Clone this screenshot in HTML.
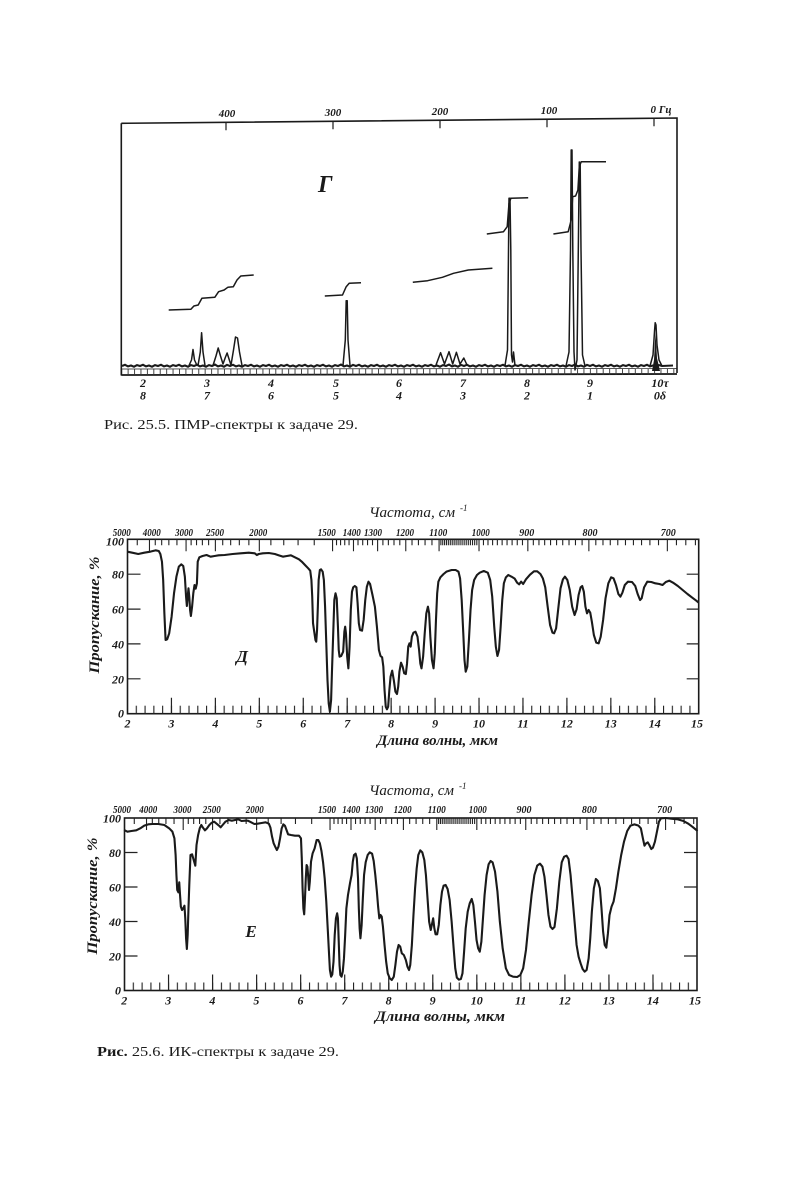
<!DOCTYPE html>
<html><head><meta charset="utf-8"><style>
html,body{margin:0;padding:0;background:#fff;}
svg{display:block;}
text{font-family:"Liberation Serif",serif;fill:#1a1a1a;}
.n{font-weight:bold;font-style:italic;font-size:12px;}
.f{font-weight:bold;font-style:italic;font-size:11px;}
.t{font-style:italic;font-size:15px;}
</style></head><body>
<svg width="796" height="1200" viewBox="0 0 796 1200" xmlns="http://www.w3.org/2000/svg">
<defs>
<pattern id="nmrt" patternUnits="userSpaceOnUse" x="140.5" y="369" width="6.42" height="6"><rect x="0" y="0" width="0.9" height="6" fill="#333"/></pattern>
<pattern id="dt" patternUnits="userSpaceOnUse" x="126.95" y="705.7" width="8.788" height="8"><rect x="0" y="0" width="1.1" height="8" fill="#222"/></pattern>
<pattern id="et" patternUnits="userSpaceOnUse" x="123.95" y="982.5" width="8.81" height="8"><rect x="0" y="0" width="1.1" height="8" fill="#222"/></pattern>
</defs>
<rect width="796" height="1200" fill="#fff"/>

<!-- ===== NMR ===== -->
<g stroke="#1a1a1a" fill="none" stroke-width="1.6">
<path d="M121.3,123.3 L677,118 L677,373"/>
<path d="M121.3,123.3 L121.3,375.5"/>
<path d="M121.3,375 L677,374" stroke-width="1.8"/>
<path d="M121.3,369 L677,368.5" stroke-width="0.7"/>
<path d="M226,122.3v8M333,121.3v8M440,120.3v8M547,119.2v8M654,118.2v8" stroke-width="1.2"/>
</g>
<rect x="122" y="369" width="555" height="6" fill="url(#nmrt)"/>

<text class="f" x="227" y="117" text-anchor="middle">400</text>
<text class="f" x="333" y="116" text-anchor="middle">300</text>
<text class="f" x="440" y="115" text-anchor="middle">200</text>
<text class="f" x="549" y="114" text-anchor="middle">100</text>
<text class="f" x="661" y="113" text-anchor="middle">0 Гц</text>

<text x="318" y="192" style="font-weight:bold;font-style:italic;font-size:24px">Г</text>

<!-- baseline -->
<path fill="none" stroke="#1a1a1a" stroke-width="2.1" d="M122,366 l3,-1.2 3,1.6 3,-0.9 3,1.2 3,-1.6 3,0.9 l3,-1.2 3,1.6 3,-0.9 3,1.2 3,-1.6 3,0.9 l3,-1.2 3,1.6 3,-0.9 3,1.2 3,-1.6 3,0.9 l3,-1.2 3,1.6 3,-0.9 3,1.2 3,-1.6 3,0.9 l3,-1.2 3,1.6 3,-0.9 3,1.2 3,-1.6 3,0.9 l3,-1.4 3,1.8 3,-0.9 3,1.2 3,-1.8 3,1.1 l3,-1.2 3,1.6 3,-0.9 3,1.2 3,-1.6 3,0.9 l3,-1.2 3,1.6 3,-0.9 3,1.2 3,-1.6 3,0.9 l3,-1.2 3,1.6 3,-0.9 3,1.2 3,-1.6 3,0.9 l3,-1.2 3,1.6 3,-0.9 3,1.2 3,-1.6 3,0.9 l3,-1.2 3,1.6 3,-0.9 3,1.2 3,-1.6 3,0.9 l3,-1.2 3,1.6 3,-0.9 3,1.2 3,-1.6 3,0.9 l3,-1.4 3,1.8 3,-0.9 3,1.2 3,-1.8 3,1.1 l3,-1.2 3,1.6 3,-0.9 3,1.2 3,-1.6 3,0.9 l3,-1.2 3,1.6 3,-0.9 3,1.2 3,-1.6 3,0.9 l3,-1.2 3,1.6 3,-0.9 3,1.2 3,-1.6 3,0.9 l3,-1.2 3,1.6 3,-0.9 3,1.2 3,-1.6 3,0.9 l3,-1.2 3,1.6 3,-0.9 3,1.2 3,-1.6 3,0.9 l3,-1.4 3,1.8 3,-0.9 3,1.2 3,-1.8 3,1.1 l3,-1.2 3,1.6 3,-0.9 3,1.2 3,-1.6 3,0.9 l3,-1.2 3,1.6 3,-0.9 3,1.2 3,-1.6 3,0.9 l3,-1.2 3,1.6 3,-0.9 3,1.2 3,-1.6 3,0.9 l3,-1.2 3,1.6 3,-0.9 3,1.2 3,-1.6 3,0.9 l3,-1.2 3,1.6 3,-0.9 3,1.2 3,-1.6 3,0.9 l3,-1.2 3,1.6 3,-0.9 3,1.2 3,-1.6 3,0.9 l3,-1.4 3,1.8 3,-0.9 3,1.2 3,-1.8 3,1.1 l3,-1.2 3,1.6 3,-0.9 3,1.2 3,-1.6 3,0.9 l3,-1.2 3,1.6 3,-0.9 3,1.2 3,-1.6 3,0.9 l3,-1.2 3,1.6 3,-0.9 3,1.2 3,-1.6 3,0.9 l3,-1.2 3,1.6 3,-0.9 3,1.2 3,-1.6 3,0.9 L673,365.5"/>

<g fill="none" stroke="#1a1a1a" stroke-width="1.5" stroke-linejoin="round">
<path d="M189,365.5 L191.5,360 L193,349.5 L194.5,360 L197,365.5"/>
<path d="M198,365.5 L200.3,352 L201.6,332.7 L203,352 L205,365.5"/>
<path d="M213,365.5 L216,356 L218.2,348 L220.5,356 L223,364 L225.5,357 L227.1,353 L228.7,358 L231,365 L233.5,350 L235.5,337 L237.5,338 L239.5,352 L242,365.5"/>
<path d="M343,365.5 L345.3,340 L346.2,300.7 L347.2,300.7 L348,340 L350,365.5"/>
<path d="M436,365 L440.6,352.7 L444.5,364 L449,351.7 L452.7,364 L456.4,352.3 L460,364 L463.8,358 L467,365"/>
<path d="M505,365.5 L507.5,350 L508.5,250 L509,198.3 L510,198.3 L510.8,250 L511.5,355 L512.5,362 L513.5,352 L515,365.5"/>
<path d="M566,366 L569,352 L570.5,250 L571.2,150 L572,150 L572.8,250 L574,352 L575,370 L577,360 L578.3,250 L579.3,162 L580.2,165 L581,250 L582.5,355 L585,366"/>
<path d="M650,366 L653,355 L654.6,330 L655.2,322.7 L656,325 L657,345 L659,360 L662,366"/>
<path d="M168.7,310 L190.9,309.3 L193.9,306 L198.2,305 L201.9,298.3 L214.8,297.3 L218.6,291.7 L224.1,290 L227.8,287.3 L233.3,286.7 L237,280 L240.8,276 L253.7,275"/>
<path d="M324.8,296 L342.5,295 L346.2,286.7 L349.2,283.3 L361,282.7"/>
<path d="M412.8,282.3 L427.6,280.7 L442.4,277.3 L453.5,273.3 L468.3,270 L492.4,268.3"/>
<path d="M486.8,234 L503.5,231.7 L507.2,226.7 L509,203.3 L510.9,198.3 L528.2,197.7"/>
<path d="M553.4,234 L568.2,231.7 L571.2,220 L572.7,196.7 L575.6,196 L577.9,190 L579.3,166.7 L581.2,161.7 L606,161.7"/>
</g>
<polygon points="652,371 654,360 655.5,332 657,358 660,371" fill="#1a1a1a"/>

<g class="n" text-anchor="middle">
<text class="n" x="143" y="387" text-anchor="middle">2</text>
<text class="n" x="207" y="387" text-anchor="middle">3</text>
<text class="n" x="271" y="387" text-anchor="middle">4</text>
<text class="n" x="336" y="387" text-anchor="middle">5</text>
<text class="n" x="399" y="387" text-anchor="middle">6</text>
<text class="n" x="463" y="387" text-anchor="middle">7</text>
<text class="n" x="527" y="387" text-anchor="middle">8</text>
<text class="n" x="590" y="387" text-anchor="middle">9</text>
<text class="n" x="660" y="387" text-anchor="middle">10τ</text>
<text class="n" x="143" y="399.5" text-anchor="middle">8</text>
<text class="n" x="207" y="399.5" text-anchor="middle">7</text>
<text class="n" x="271" y="399.5" text-anchor="middle">6</text>
<text class="n" x="336" y="399.5" text-anchor="middle">5</text>
<text class="n" x="399" y="399.5" text-anchor="middle">4</text>
<text class="n" x="463" y="399.5" text-anchor="middle">3</text>
<text class="n" x="527" y="399.5" text-anchor="middle">2</text>
<text class="n" x="590" y="399.5" text-anchor="middle">1</text>
<text class="n" x="660" y="399.5" text-anchor="middle">0δ</text>
</g>

<text x="104" y="429" font-size="13.5" textLength="254" lengthAdjust="spacingAndGlyphs">Рис. 25.5. ПМР-спектры к задаче 29.</text>

<!-- ===== IR Д ===== -->
<text class="t" x="369" y="517" textLength="86" lengthAdjust="spacingAndGlyphs">Частота, см</text>
<text x="460" y="511" style="font-style:italic;font-size:9px">-1</text>

<text class="f" x="121.7" y="536" text-anchor="middle" textLength="18" lengthAdjust="spacingAndGlyphs">5000</text>
<text class="f" x="151.7" y="536" text-anchor="middle" textLength="18" lengthAdjust="spacingAndGlyphs">4000</text>
<text class="f" x="184" y="536" text-anchor="middle" textLength="18" lengthAdjust="spacingAndGlyphs">3000</text>
<text class="f" x="215" y="536" text-anchor="middle" textLength="18" lengthAdjust="spacingAndGlyphs">2500</text>
<text class="f" x="258.3" y="536" text-anchor="middle" textLength="18" lengthAdjust="spacingAndGlyphs">2000</text>
<text class="f" x="326.7" y="536" text-anchor="middle" textLength="18" lengthAdjust="spacingAndGlyphs">1500</text>
<text class="f" x="351.7" y="536" text-anchor="middle" textLength="18" lengthAdjust="spacingAndGlyphs">1400</text>
<text class="f" x="373" y="536" text-anchor="middle" textLength="18" lengthAdjust="spacingAndGlyphs">1300</text>
<text class="f" x="405" y="536" text-anchor="middle" textLength="18" lengthAdjust="spacingAndGlyphs">1200</text>
<text class="f" x="438.3" y="536" text-anchor="middle" textLength="18" lengthAdjust="spacingAndGlyphs">1100</text>
<text class="f" x="480.7" y="536" text-anchor="middle" textLength="18" lengthAdjust="spacingAndGlyphs">1000</text>
<text class="f" x="526.7" y="536" text-anchor="middle" textLength="15" lengthAdjust="spacingAndGlyphs">900</text>
<text class="f" x="590" y="536" text-anchor="middle" textLength="15" lengthAdjust="spacingAndGlyphs">800</text>
<text class="f" x="668.3" y="536" text-anchor="middle" textLength="15" lengthAdjust="spacingAndGlyphs">700</text>

<rect x="127.5" y="539.3" width="571.2" height="174.4" fill="none" stroke="#1a1a1a" stroke-width="1.6"/>
<g transform="translate(127.5,539.3) scale(43.94,1)" stroke="#222" fill="none" stroke-width="1.1">
<path vector-effect="non-scaling-stroke" d="M0.5,0v12M1.333,0v12M2,0v12M3,0v12M4.667,0v12M5.143,0v12M5.692,0v12M6.333,0v12M7.091,0v12M8,0v12M9.111,0v12M10.5,0v12M12.286,0v12"/>
<path vector-effect="non-scaling-stroke" d="M0.222,0v6M0.632,0v6M0.778,0v6M0.941,0v6M1.125,0v6M1.448,0v6M1.571,0v6M1.704,0v6M1.846,0v6M2.167,0v6M2.348,0v6M2.545,0v6M2.762,0v6M3.263,0v6M3.556,0v6M3.882,0v6M4.25,0v6M4.757,0v6M4.849,0v6M4.944,0v6M5.042,0v6M5.246,0v6M5.353,0v6M5.463,0v6M5.576,0v6M5.8125,0v6M5.937,0v6M6.065,0v6M6.197,0v6M6.475,0v6M6.621,0v6M6.772,0v6M6.929,0v6M7.132,0v6M7.174,0v6M7.216,0v6M7.259,0v6M7.302,0v6M7.346,0v6M7.390,0v6M7.434,0v6M7.479,0v6M7.524,0v6M7.569,0v6M7.615,0v6M7.662,0v6M7.709,0v6M7.756,0v6M7.804,0v6M7.852,0v6M7.901,0v6M7.950,0v6M8.101,0v6M8.204,0v6M8.309,0v6M8.417,0v6M8.526,0v6M8.638,0v6M8.753,0v6M8.870,0v6M8.989,0v6M9.236,0v6M9.364,0v6M9.494,0v6M9.628,0v6M9.765,0v6M9.905,0v6M10.048,0v6M10.195,0v6M10.346,0v6M10.658,0v6M10.821,0v6M10.987,0v6M11.158,0v6M11.333,0v6M11.514,0v6M11.699,0v6M11.889,0v6M12.085,0v6M12.493,0v6M12.706,0v6M12.925,0v6"/>
</g>
<rect x="128.5" y="705.7" width="569.5" height="8" fill="url(#dt)"/>
<g transform="translate(127.5,713.7) scale(43.94,1)" stroke="#222" fill="none">
<path vector-effect="non-scaling-stroke" stroke-width="1.2" d="M1,0v-16M2,0v-16M3,0v-16M4,0v-16M5,0v-16M6,0v-16M7,0v-16M8,0v-16M9,0v-16M10,0v-16M11,0v-16M12,0v-16"/>
</g>
<path stroke="#222" stroke-width="1.2" fill="none" d="M127.5,574.2h13M127.5,609.1h13M127.5,643.9h13M127.5,678.8h13M698.7,574.2h-12M698.7,609.1h-12M698.7,643.9h-12M698.7,678.8h-12"/>

<text class="n" x="124" y="545.5" text-anchor="end">100</text>
<text class="n" x="124" y="578.5" text-anchor="end">80</text>
<text class="n" x="124" y="613.5" text-anchor="end">60</text>
<text class="n" x="124" y="648.5" text-anchor="end">40</text>
<text class="n" x="124" y="683.5" text-anchor="end">20</text>
<text class="n" x="124" y="717.5" text-anchor="end">0</text>

<text class="n" x="127.5" y="727.5" text-anchor="middle">2</text>
<text class="n" x="171.4" y="727.5" text-anchor="middle">3</text>
<text class="n" x="215.4" y="727.5" text-anchor="middle">4</text>
<text class="n" x="259.3" y="727.5" text-anchor="middle">5</text>
<text class="n" x="303.3" y="727.5" text-anchor="middle">6</text>
<text class="n" x="347.2" y="727.5" text-anchor="middle">7</text>
<text class="n" x="391.1" y="727.5" text-anchor="middle">8</text>
<text class="n" x="435.1" y="727.5" text-anchor="middle">9</text>
<text class="n" x="479" y="727.5" text-anchor="middle">10</text>
<text class="n" x="523" y="727.5" text-anchor="middle">11</text>
<text class="n" x="566.9" y="727.5" text-anchor="middle">12</text>
<text class="n" x="610.8" y="727.5" text-anchor="middle">13</text>
<text class="n" x="654.8" y="727.5" text-anchor="middle">14</text>
<text class="n" x="697" y="727.5" text-anchor="middle">15</text>

<text class="t" x="377" y="745" textLength="121" lengthAdjust="spacingAndGlyphs" style="font-weight:bold">Длина волны, мкм</text>
<text class="t" transform="translate(99,615) rotate(-90)" text-anchor="middle" textLength="117" lengthAdjust="spacingAndGlyphs" style="font-weight:bold">Пропускание, %</text>
<text x="242" y="662" text-anchor="middle" style="font-weight:bold;font-style:italic;font-size:17px">Д</text>

<g transform="translate(80,500) scale(0.40177,0.33333)">
<path vector-effect="non-scaling-stroke" fill="none" stroke="#1a1a1a" stroke-width="2.1" stroke-linejoin="round" d="M118,155 L130,158 145,162 160,158 175,155 188,151 196,153 200,162 204,185 207,240 210,340 213,420 217,418 222,400 228,350 234,280 240,230 246,200 252,193 257,198 261,230 264,290 266,318 268,290 270,265 272,290 274,330 276,348 279,320 282,280 285,255 288,266 291,250 293,185 297,172 305,168 315,165 325,170 335,168 345,166 360,165 380,162 400,160 420,158 435,160 440,165 445,162 455,160 470,159 485,162 495,166 505,170 515,168 525,166 535,172 545,178 552,185 560,195 568,205 573,212 576,240 578,290 580,370 583,395 586,420 588,425 590,390 592,320 594,240 597,210 600,208 604,215 607,240 610,320 613,430 616,540 619,610 622,635 625,600 627,520 630,410 633,300 636,280 639,295 642,380 644,450 646,470 650,468 655,455 658,395 660,380 662,400 665,470 668,505 671,440 674,330 677,275 680,262 684,258 688,262 691,310 694,370 697,390 702,392 706,360 710,300 714,260 718,245 722,252 728,285 734,320 739,380 744,450 748,468 752,472 755,500 758,570 761,620 764,628 767,620 770,570 773,530 777,512 781,540 785,575 789,582 792,560 795,515 799,488 803,500 807,520 811,522 814,490 817,440 820,430 823,440 826,410 830,398 835,395 840,410 844,450 847,490 850,505 854,470 858,400 862,340 866,320 869,340 872,410 876,480 880,505 883,460 886,360 889,280 892,245 897,232 905,222 912,215 925,210 935,210 942,215 946,235 950,300 954,400 957,480 960,515 964,500 968,420 972,330 976,270 981,240 988,225 995,218 1005,213 1015,218 1021,240 1026,290 1031,380 1035,440 1039,468 1043,450 1047,380 1051,300 1055,250 1060,232 1066,225 1074,230 1082,236 1088,248 1093,253 1098,245 1103,252 1110,238 1120,224 1130,214 1138,214 1146,222 1152,235 1158,262 1164,320 1170,375 1176,398 1180,400 1185,385 1190,330 1196,265 1202,238 1207,230 1213,240 1219,270 1225,320 1231,345 1236,328 1241,285 1246,262 1250,258 1254,275 1258,320 1262,340 1266,330 1270,338 1274,365 1279,405 1285,428 1291,430 1296,410 1302,360 1308,295 1315,250 1322,232 1328,235 1334,255 1340,282 1345,290 1350,278 1356,255 1364,245 1374,246 1382,258 1388,282 1394,300 1398,295 1404,262 1412,245 1422,246 1432,250 1442,252 1450,255 1458,246 1467,242 1476,248 1488,258 1500,270 1512,282 1524,293 1534,302 1540,308"/>
</g>

<!-- ===== IR Е ===== -->
<text class="t" x="369" y="795" textLength="85" lengthAdjust="spacingAndGlyphs">Частота, см</text>
<text x="459" y="789" style="font-style:italic;font-size:9px">-1</text>

<text class="f" x="122" y="813" text-anchor="middle" textLength="18" lengthAdjust="spacingAndGlyphs">5000</text>
<text class="f" x="148.3" y="813" text-anchor="middle" textLength="18" lengthAdjust="spacingAndGlyphs">4000</text>
<text class="f" x="182.5" y="813" text-anchor="middle" textLength="18" lengthAdjust="spacingAndGlyphs">3000</text>
<text class="f" x="211.8" y="813" text-anchor="middle" textLength="18" lengthAdjust="spacingAndGlyphs">2500</text>
<text class="f" x="254.8" y="813" text-anchor="middle" textLength="18" lengthAdjust="spacingAndGlyphs">2000</text>
<text class="f" x="327" y="813" text-anchor="middle" textLength="18" lengthAdjust="spacingAndGlyphs">1500</text>
<text class="f" x="351.2" y="813" text-anchor="middle" textLength="18" lengthAdjust="spacingAndGlyphs">1400</text>
<text class="f" x="374" y="813" text-anchor="middle" textLength="18" lengthAdjust="spacingAndGlyphs">1300</text>
<text class="f" x="402.6" y="813" text-anchor="middle" textLength="18" lengthAdjust="spacingAndGlyphs">1200</text>
<text class="f" x="436.8" y="813" text-anchor="middle" textLength="18" lengthAdjust="spacingAndGlyphs">1100</text>
<text class="f" x="477.8" y="813" text-anchor="middle" textLength="18" lengthAdjust="spacingAndGlyphs">1000</text>
<text class="f" x="524" y="813" text-anchor="middle" textLength="15" lengthAdjust="spacingAndGlyphs">900</text>
<text class="f" x="589.4" y="813" text-anchor="middle" textLength="15" lengthAdjust="spacingAndGlyphs">800</text>
<text class="f" x="664.6" y="813" text-anchor="middle" textLength="15" lengthAdjust="spacingAndGlyphs">700</text>

<rect x="124.5" y="818" width="572.5" height="172.5" fill="none" stroke="#1a1a1a" stroke-width="1.6"/>
<g transform="translate(124.5,818) scale(44.04,1)" stroke="#222" fill="none" stroke-width="1.1">
<path vector-effect="non-scaling-stroke" d="M0.5,0v12M1.333,0v12M2,0v12M3,0v12M4.667,0v12M5.143,0v12M5.692,0v12M6.333,0v12M7.091,0v12M8,0v12M9.111,0v12M10.5,0v12M12.286,0v12"/>
<path vector-effect="non-scaling-stroke" d="M0.222,0v6M0.632,0v6M0.778,0v6M0.941,0v6M1.125,0v6M1.448,0v6M1.571,0v6M1.704,0v6M1.846,0v6M2.167,0v6M2.348,0v6M2.545,0v6M2.762,0v6M3.263,0v6M3.556,0v6M3.882,0v6M4.25,0v6M4.757,0v6M4.849,0v6M4.944,0v6M5.042,0v6M5.246,0v6M5.353,0v6M5.463,0v6M5.576,0v6M5.8125,0v6M5.937,0v6M6.065,0v6M6.197,0v6M6.475,0v6M6.621,0v6M6.772,0v6M6.929,0v6M7.132,0v6M7.174,0v6M7.216,0v6M7.259,0v6M7.302,0v6M7.346,0v6M7.390,0v6M7.434,0v6M7.479,0v6M7.524,0v6M7.569,0v6M7.615,0v6M7.662,0v6M7.709,0v6M7.756,0v6M7.804,0v6M7.852,0v6M7.901,0v6M7.950,0v6M8.101,0v6M8.204,0v6M8.309,0v6M8.417,0v6M8.526,0v6M8.638,0v6M8.753,0v6M8.870,0v6M8.989,0v6M9.236,0v6M9.364,0v6M9.494,0v6M9.628,0v6M9.765,0v6M9.905,0v6M10.048,0v6M10.195,0v6M10.346,0v6M10.658,0v6M10.821,0v6M10.987,0v6M11.158,0v6M11.333,0v6M11.514,0v6M11.699,0v6M11.889,0v6M12.085,0v6M12.493,0v6M12.706,0v6M12.925,0v6"/>
</g>
<rect x="125.5" y="982.5" width="571" height="8" fill="url(#et)"/>
<g transform="translate(124.5,990.5) scale(44.04,1)" stroke="#222" fill="none">
<path vector-effect="non-scaling-stroke" stroke-width="1.2" d="M1,0v-16M2,0v-16M3,0v-16M4,0v-16M5,0v-16M6,0v-16M7,0v-16M8,0v-16M9,0v-16M10,0v-16M11,0v-16M12,0v-16"/>
</g>
<path stroke="#222" stroke-width="1.2" fill="none" d="M124.5,852.5h13M124.5,887h13M124.5,921.5h13M124.5,956h13M697,852.5h-13M697,887h-13M697,921.5h-13M697,956h-13"/>

<text class="n" x="121" y="822.5" text-anchor="end">100</text>
<text class="n" x="121" y="857" text-anchor="end">80</text>
<text class="n" x="121" y="891.5" text-anchor="end">60</text>
<text class="n" x="121" y="926" text-anchor="end">40</text>
<text class="n" x="121" y="960.5" text-anchor="end">20</text>
<text class="n" x="121" y="994.5" text-anchor="end">0</text>

<text class="n" x="124.3" y="1004.5" text-anchor="middle">2</text>
<text class="n" x="168.3" y="1004.5" text-anchor="middle">3</text>
<text class="n" x="212.4" y="1004.5" text-anchor="middle">4</text>
<text class="n" x="256.4" y="1004.5" text-anchor="middle">5</text>
<text class="n" x="300.5" y="1004.5" text-anchor="middle">6</text>
<text class="n" x="344.5" y="1004.5" text-anchor="middle">7</text>
<text class="n" x="388.6" y="1004.5" text-anchor="middle">8</text>
<text class="n" x="432.6" y="1004.5" text-anchor="middle">9</text>
<text class="n" x="476.7" y="1004.5" text-anchor="middle">10</text>
<text class="n" x="520.7" y="1004.5" text-anchor="middle">11</text>
<text class="n" x="564.8" y="1004.5" text-anchor="middle">12</text>
<text class="n" x="608.8" y="1004.5" text-anchor="middle">13</text>
<text class="n" x="652.9" y="1004.5" text-anchor="middle">14</text>
<text class="n" x="695" y="1004.5" text-anchor="middle">15</text>

<text class="t" x="375" y="1021" textLength="130" lengthAdjust="spacingAndGlyphs" style="font-weight:bold">Длина волны, мкм</text>
<text class="t" transform="translate(97,896) rotate(-90)" text-anchor="middle" textLength="117" lengthAdjust="spacingAndGlyphs" style="font-weight:bold">Пропускание, %</text>
<text x="251" y="937" text-anchor="middle" style="font-weight:bold;font-style:italic;font-size:17px">Е</text>

<g transform="translate(80,775) scale(0.40177,0.33333)">
<path vector-effect="non-scaling-stroke" fill="none" stroke="#1a1a1a" stroke-width="2.1" stroke-linejoin="round" d="M110,165 L118,170 128,168 140,166 150,160 160,152 170,148 180,147 195,147 210,150 222,160 230,170 235,190 238,240 240,300 242,345 245,352 247,322 249,360 251,395 254,405 257,400 260,392 262,430 264,490 266,522 268,480 270,400 272,330 275,240 279,238 283,255 287,272 290,210 294,180 298,160 302,150 306,158 311,166 316,160 322,150 328,143 334,140 340,146 346,152 350,157 355,150 362,140 370,135 378,137 386,135 394,133 402,138 410,137 418,137 426,142 434,147 442,146 452,144 462,142 470,146 474,158 478,185 482,205 487,218 490,225 494,215 498,190 502,160 506,148 510,152 514,165 518,178 525,180 535,182 545,182 550,190 552,250 554,340 556,400 558,418 560,370 562,310 564,270 566,275 568,305 570,345 572,320 575,260 579,235 584,220 589,195 593,195 597,205 601,228 605,262 609,310 613,380 617,470 620,540 622,585 625,605 628,598 631,560 634,480 637,430 640,415 642,430 644,500 646,570 648,600 651,605 654,590 657,550 660,480 663,400 667,360 672,325 676,300 679,260 682,240 686,236 689,250 692,310 694,400 696,460 698,490 701,450 704,370 707,300 711,262 716,240 721,232 727,236 731,258 735,300 739,350 742,395 745,430 748,420 751,425 754,455 758,510 762,560 766,595 771,610 776,615 781,605 785,570 789,530 793,510 797,515 801,535 806,540 811,555 815,575 819,585 822,570 826,510 830,420 834,340 838,280 842,240 847,226 852,232 857,255 861,300 865,370 869,440 873,465 876,448 879,430 882,460 885,478 889,478 893,450 897,390 901,350 905,332 910,330 915,342 920,375 925,440 930,520 934,580 938,608 943,614 948,612 952,595 956,530 960,460 965,410 970,385 975,372 979,390 983,440 987,495 991,520 995,530 999,500 1003,430 1007,360 1012,300 1017,268 1022,258 1027,262 1033,290 1039,350 1045,440 1052,520 1060,580 1068,600 1078,605 1088,606 1096,600 1103,580 1110,525 1117,440 1124,360 1131,300 1138,272 1145,266 1151,275 1156,305 1161,360 1166,420 1171,455 1176,462 1181,456 1187,400 1193,320 1199,262 1205,245 1211,242 1216,252 1221,300 1226,370 1231,440 1236,510 1241,545 1246,565 1251,582 1256,590 1261,585 1266,550 1270,490 1274,410 1279,340 1284,312 1289,318 1294,340 1298,400 1302,470 1306,510 1310,518 1314,475 1318,420 1323,395 1328,380 1334,340 1340,290 1347,240 1354,200 1362,168 1370,152 1380,148 1390,152 1396,160 1401,190 1405,212 1409,205 1413,202 1417,210 1422,222 1426,218 1431,200 1436,170 1441,140 1446,130 1458,129 1472,131 1488,133 1502,138 1514,146 1524,155 1532,163 1537,168"/>
</g>

<text x="97" y="1056" font-size="13.5" textLength="242" lengthAdjust="spacingAndGlyphs"><tspan font-weight="bold">Рис.</tspan> 25.6. ИК-спектры к задаче 29.</text>
</svg>
</body></html>
